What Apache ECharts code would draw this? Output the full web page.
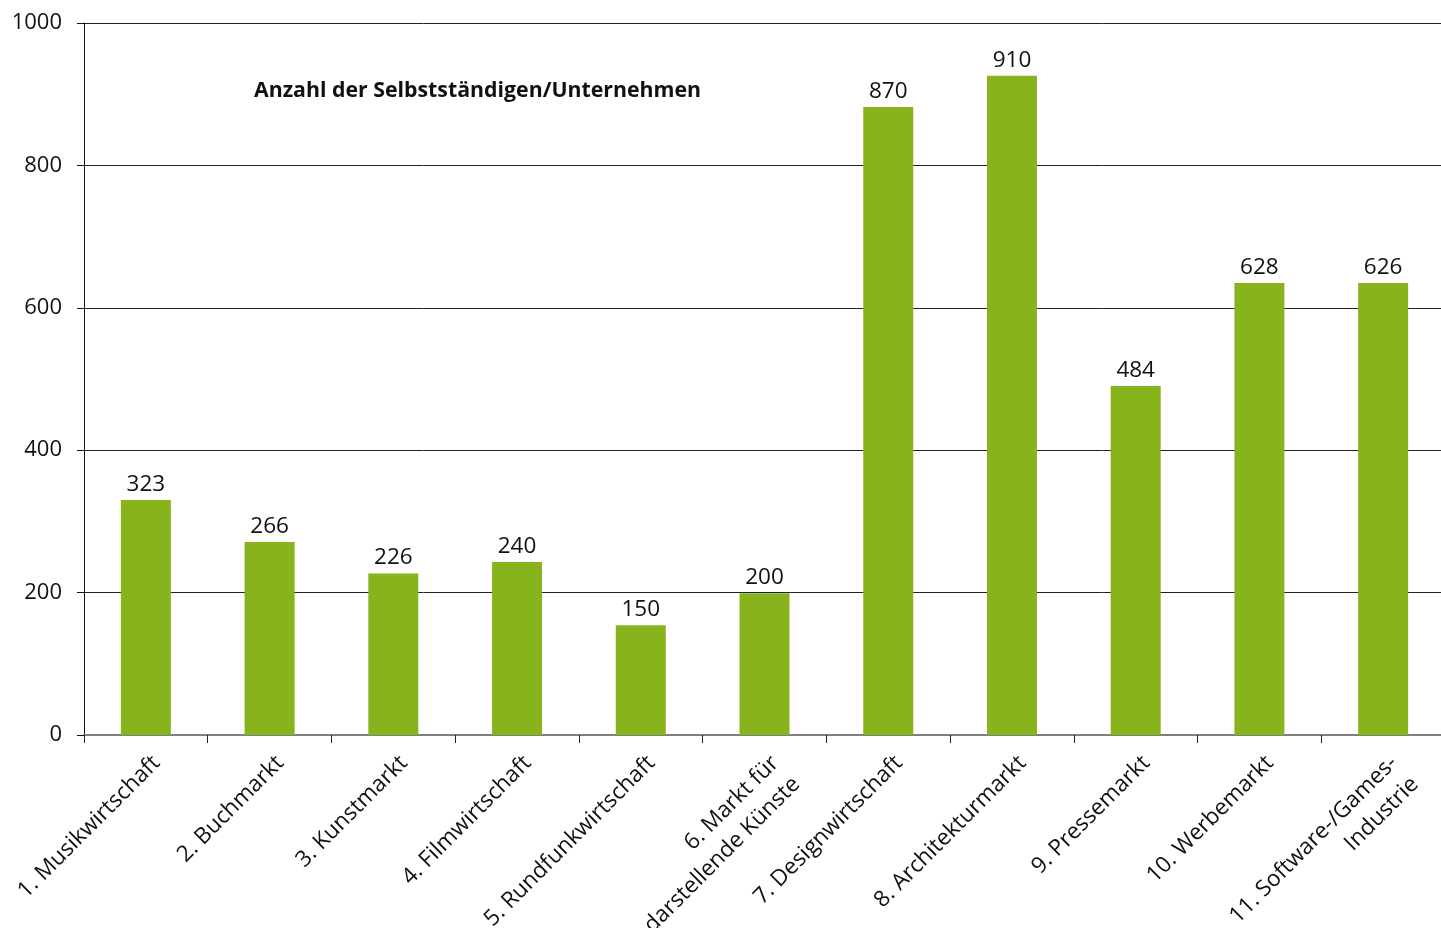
<!DOCTYPE html>
<html>
<head>
<meta charset="utf-8">
<script src="https://cdn.jsdelivr.net/npm/echarts@6/dist/echarts.min.js"></script>
<style>
html,body{margin:0;padding:0;background:#fff;}
#chart{width:1441px;height:928px;}
</style>
</head>
<body>
<div id="chart"></div>
<script>
const categories = [
  "1. Musikwirtschaft",
  "2. Buchmarkt",
  "3. Kunstmarkt",
  "4. Filmwirtschaft",
  "5. Rundfunkwirtschaft",
  "6. Markt für\ndarstellende Künste",
  "7. Designwirtschaft",
  "8. Architekturmarkt",
  "9. Pressemarkt",
  "10. Werbemarkt",
  "11. Software-/Games-\nIndustrie"
];
// bar heights as drawn in the picture
const barValues = [330, 271, 227, 243, 154, 199, 882, 926, 490, 635, 635];
// value labels as printed above the bars
const labelValues = [323, 266, 226, 240, 150, 200, 870, 910, 484, 628, 626];
const yTicks = [0, 200, 400, 600, 800, 1000];
const titleText = "Anzahl der Selbstständigen/Unternehmen";

const FONT = "Open Sans";
const chart = echarts.init(document.getElementById('chart'));
chart.setOption({
  animation: false,
  backgroundColor: '#fff',
  title: {
    text: titleText,
    left: 249, top: 75,
    textStyle: {fontFamily: FONT, fontSize: 21.3, fontWeight: 'bold', color: '#111'}
  },
  grid: {left: 84, right: -4, top: 23, bottom: 193, containLabel: false, outerBoundsMode: 'none'},
  xAxis: {
    type: 'category',
    data: categories,
    axisLine: {lineStyle: {color: '#808080', width: 2}},
    axisTick: {show: true, length: 8, lineStyle: {color: '#222'}},
    axisLabel: {
      rotate: 45, interval: 0, margin: 14,
      fontFamily: FONT, fontSize: 22.5, color: '#111', lineHeight: 30,
      align: 'right', verticalAlign: 'top'
    }
  },
  yAxis: {
    type: 'value',
    min: yTicks[0], max: yTicks[yTicks.length - 1], interval: 200,
    axisLine: {show: true, lineStyle: {color: '#111', width: 1}},
    axisTick: {show: true, length: 7, lineStyle: {color: '#111'}},
    splitLine: {show: true, lineStyle: {color: '#222', width: 1}},
    axisLabel: {fontFamily: FONT, fontSize: 22, color: '#111', margin: 22,
      formatter: v => String(v)}
  },
  series: [{
    type: 'bar',
    data: barValues,
    barWidth: 50,
    itemStyle: {color: '#87b31d'},
    label: {
      show: true, position: 'top', distance: 4,
      fontFamily: FONT, fontSize: 22.5, color: '#111',
      formatter: p => String(labelValues[p.dataIndex])
    }
  }]
});
</script>
</body>
</html>
